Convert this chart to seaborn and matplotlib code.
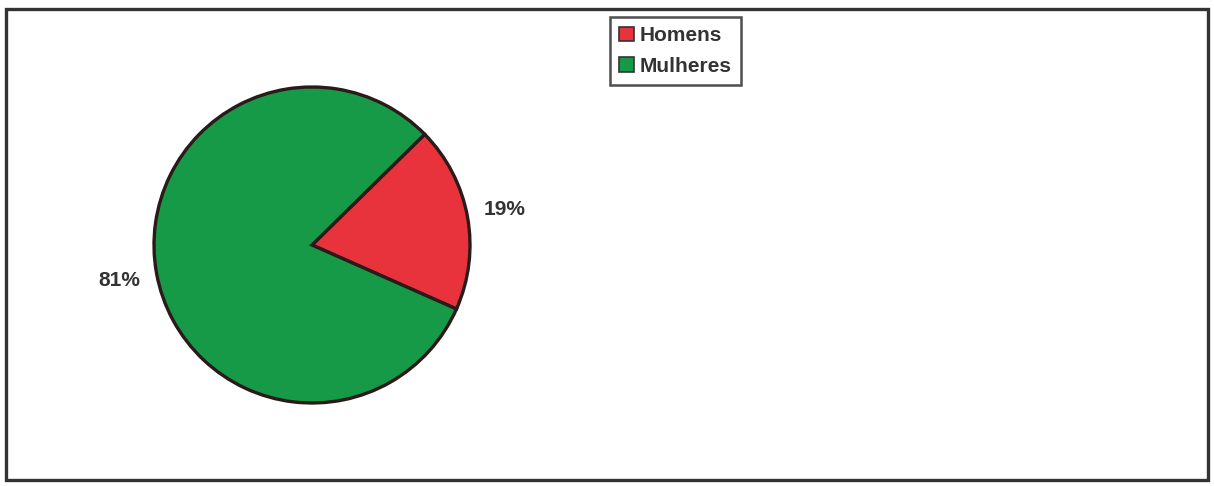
import matplotlib
matplotlib.use("Agg")
import matplotlib.pyplot as plt
import matplotlib.patches as mpatches
import seaborn as sns

categories = ["Homens", "Mulheres"]
values = [19, 81]
colors = ["#E8323C", "#169A48"]

sns.set_theme(style="white")
plt.rcParams['font.family'] = ['Liberation Sans', 'DejaVu Sans']

W, H = 1214, 486
fig = plt.figure(figsize=(W / 100, H / 100), dpi=100)
fig.patch.set_facecolor("white")

cx, cy, r = 312, 245, 158
ax = fig.add_axes([(cx - r) / W, 1 - (cy + r) / H, 2 * r / W, 2 * r / H])
wedges, texts, autotexts = ax.pie(
    values, colors=colors, startangle=44.5, counterclock=False,
    autopct='%1.0f%%', pctdistance=1.24,
    wedgeprops=dict(edgecolor="#2a1a1a", linewidth=2.4),
    textprops=dict(fontsize=15, fontweight='bold', color="#333333"),
)
ax.set_xlim(-1, 1)
ax.set_ylim(-1, 1)
ax.set_aspect('equal')
ax.axis('off')

handles = [mpatches.Patch(facecolor=c, edgecolor="#333333", linewidth=1.2) for c in colors]
leg = fig.legend(handles, categories, loc='upper left',
                 bbox_to_anchor=(610 / W, 1 - 17 / H), borderaxespad=0,
                 frameon=True, fancybox=False, shadow=False,
                 handlelength=0.7, handleheight=0.7, handletextpad=0.25,
                 labelspacing=0.55, borderpad=0.45,
                 prop=dict(size=15, weight='bold'))
leg.get_frame().set_edgecolor("#222222")
leg.get_frame().set_linewidth(1.8)
for t in leg.get_texts():
    t.set_color("#333333")

frame = mpatches.Rectangle((6 / W, 1 - 480 / H), (1208 - 6) / W, (480 - 9) / H,
                           transform=fig.transFigure, fill=False,
                           edgecolor="#333333", linewidth=2.4)
fig.patches.append(frame)

fig.savefig("out.png", dpi=100, facecolor="white")
